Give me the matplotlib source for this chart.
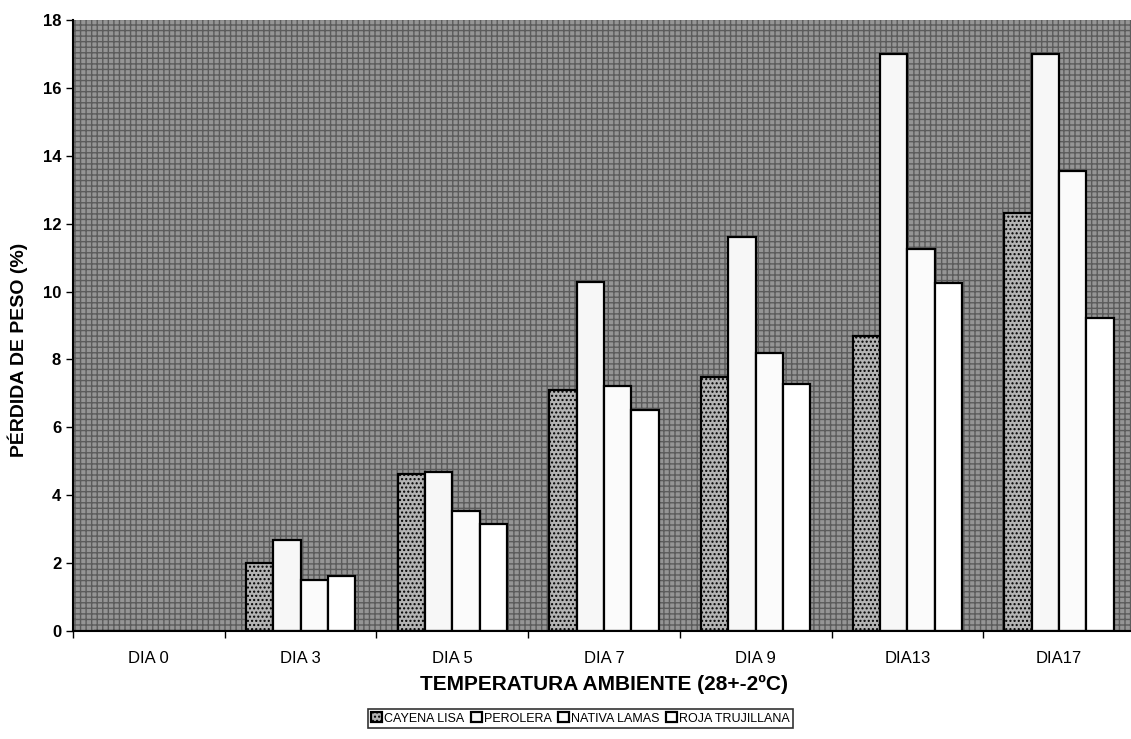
import numpy as np
import matplotlib
matplotlib.use("Agg")
import matplotlib.pyplot as plt
from matplotlib.patches import Rectangle

plt.rcParams['font.family'] = ['Liberation Sans', 'DejaVu Sans']
plt.rcParams['hatch.color'] = "#606060"

dias = ["DIA 0", "DIA 3", "DIA 5", "DIA 7", "DIA 9", "DIA13", "DIA17"]
cayena_lisa = [0, 2.0, 4.63, 7.1, 7.49, 8.7, 12.3]
perolera = [0, 2.68, 4.69, 10.27, 11.6, 17.0, 17.0]
nativa_lamas = [0, 1.5, 3.54, 7.23, 8.2, 11.24, 13.54]
roja_trujillana = [0, 1.62, 3.16, 6.52, 7.29, 10.24, 9.23]

series = [
    ("CAYENA LISA", cayena_lisa, "#b4b4b4", "...."),
    ("PEROLERA", perolera, "#f7f7f7", None),
    ("NATIVA LAMAS", nativa_lamas, "#fbfbfb", None),
    ("ROJA TRUJILLANA", roja_trujillana, "#ffffff", None),
]

fig = plt.figure(figsize=(11.31, 7.39), dpi=100)
ax = fig.add_axes([0.0645, 0.146, 0.939, 0.827])

# stippled grey background of the plot area
ax.set_facecolor("#959595")
bg = Rectangle((0, 0), 1, 1, transform=ax.transAxes, facecolor="none",
               edgecolor="#5c5c5c", hatch="+++", linewidth=0, zorder=0)
ax.add_patch(bg)

x = np.arange(len(dias))
w = 0.18
for i, (name, vals, fc, hatch) in enumerate(series):
    pos = x + (i - 1.5) * w
    ax.bar(pos, vals, width=w, color=fc, edgecolor="black", linewidth=1.6,
           hatch=hatch, label=name, zorder=2)

ax.set_xlim(-0.5, len(dias) - 0.5)
ax.set_ylim(0, 18)
ax.set_yticks(np.arange(0, 19, 2))
ax.set_yticklabels([str(v) for v in range(0, 19, 2)], fontweight="bold", fontsize=12)
ax.set_xticks(x)
ax.set_xticklabels(dias, fontsize=12)
ax.set_xticks(np.arange(-0.5, len(dias), 1), minor=True)
ax.tick_params(axis="x", which="major", length=0, pad=14)
ax.tick_params(axis="x", which="minor", length=5, width=1, direction="out")
ax.tick_params(axis="y", length=5, width=1, direction="out")

for s in ["top", "right"]:
    ax.spines[s].set_visible(False)
ax.spines["left"].set_linewidth(1.5)
ax.spines["bottom"].set_linewidth(1.5)

ax.set_xlabel("TEMPERATURA AMBIENTE (28+-2ºC)", fontsize=15, fontweight="bold", labelpad=7)
ax.set_ylabel("PÉRDIDA DE PESO (%)", fontsize=14, fontweight="bold")
ax.yaxis.set_label_coords(-0.042, 0.46)

leg = fig.legend(loc="center", bbox_to_anchor=(0.513, 0.028), ncol=4, fontsize=9,
                 frameon=True, fancybox=False, edgecolor="black",
                 handlelength=0.9, handleheight=0.9, handletextpad=0.15,
                 columnspacing=0.5, borderpad=0.25)
leg.get_frame().set_linewidth(1.2)

fig.savefig("out.png", dpi=100)
